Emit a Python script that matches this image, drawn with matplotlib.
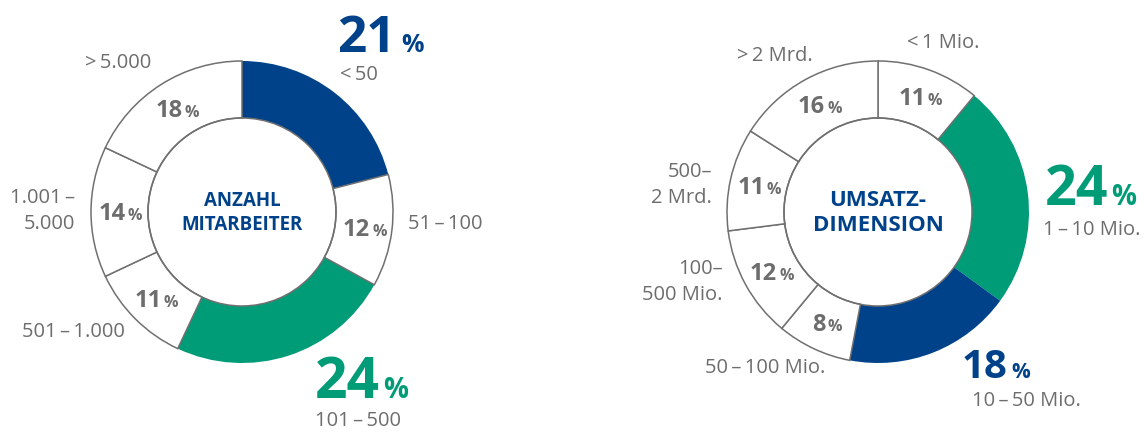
import matplotlib.pyplot as plt
import numpy as np

plt.rcParams['font.family'] = ['Open Sans', 'DejaVu Sans']

# ---- data ----
left_values = [21, 12, 24, 11, 14, 18]
left_labels = ["<\u200950", "51\u2009–\u2009100", "101\u2009–\u2009500", "501\u2009–\u20091.000",
               "1.001\u2009–\n5.000", ">\u20095.000"]
left_title = "ANZAHL\nMITARBEITER"

right_values = [11, 24, 18, 8, 12, 11, 16]
right_labels = ["<\u20091 Mio.", "1\u2009–\u200910 Mio.", "10\u2009–\u200950 Mio.", "50\u2009–\u2009100 Mio.",
                "100–\n500 Mio.", "500–\n2 Mrd.", ">\u20092 Mrd."]
right_title = "UMSATZ-\nDIMENSION"

# ---- styles ----
BLUE = '#00428a'
GREEN = '#009b77'
GRAY = '#6d6d6d'
EDGE = '#707070'
WHITE = '#ffffff'

left_colors = [BLUE, WHITE, GREEN, WHITE, WHITE, WHITE]
right_colors = [WHITE, GREEN, BLUE, WHITE, WHITE, WHITE, WHITE]

W, H = 1145, 433
R, R_IN = 151, 94

# label positions in pixel coords (x, y from top, ha)
left_label_pos = [(340, 75, 'left'), (408, 224, 'left'), (315, 421, 'left'),
                  (22, 332, 'left'), (75, 211, 'right'), (85, 63, 'left')]
right_label_pos = [(907, 43, 'left'), (1043, 230, 'left'), (972, 401, 'left'),
                   (705, 368, 'left'), (723, 282, 'right'), (712, 185, 'right'),
                   (737, 56, 'left')]
# big percentages: slice index -> (number x, baseline y, % x, number size, % size)
left_big = {0: (396, 52, 401, 37, 18), 2: (380, 398, 383, 41, 20)}
right_big = {1: (1108, 205, 1111, 40, 20), 2: (1008, 378, 1011, 29, 15)}

fig = plt.figure(figsize=(W / 100, H / 100), dpi=100)
ax = fig.add_axes([0, 0, 1, 1])


def draw_donut(cx, cy, values, colors, labels, label_pos, big, title, title_size, title_ls):
    wedges, _ = ax.pie(values, colors=colors, startangle=90, counterclock=False,
                       radius=R, center=(cx, H - cy), frame=False,
                       wedgeprops=dict(width=R - R_IN, edgecolor=EDGE, linewidth=1.1))
    rm = (R + R_IN) / 2
    for w, v, c in zip(wedges, values, colors):
        if c != WHITE:
            w.set_linewidth(0)
            w.set_zorder(1)
        else:
            w.set_zorder(2)
            mid = np.deg2rad((w.theta1 + w.theta2) / 2)
            x = cx + rm * np.cos(mid)
            y = H - cy + rm * np.sin(mid)
            xr = x + 6.5 * len(str(v)) - 9
            ax.text(xr + 2, y - 8.5, str(v), ha='right', va='baseline', fontsize=17,
                    fontweight='bold', color=GRAY, zorder=5)
            ax.text(xr + 4.5, y - 8.5, '%', ha='left', va='baseline', fontsize=11.5,
                    fontweight='bold', color=GRAY, zorder=5)
    # inner circle outline
    ax.add_patch(plt.Circle((cx, H - cy), R_IN, fill=False, edgecolor=EDGE, linewidth=1.1, zorder=3))
    for lab, (lx, ly, ha) in zip(labels, label_pos):
        ax.text(lx, H - ly, lab, ha=ha, va='center', ma=ha, fontsize=14.5, color=GRAY,
                linespacing=1.45)
    for i, (nx, by, px, ns, ps) in big.items():
        ax.text(nx, H - by, str(values[i]), ha='right', va='baseline', fontsize=ns,
                fontweight='bold', color=colors[i])
        ax.text(px, H - by, '%', ha='left', va='baseline', fontsize=ps,
                fontweight='bold', color=colors[i])
    ax.text(cx, H - cy - 1, title, ha='center', va='center', fontsize=title_size,
            fontweight='bold', color=BLUE, linespacing=title_ls, zorder=5)


draw_donut(242, 212, left_values, left_colors, left_labels, left_label_pos, left_big,
           left_title, 13.5, 1.3)
draw_donut(878, 212, right_values, right_colors, right_labels, right_label_pos, right_big,
           right_title, 16, 1.25)

ax.set_xlim(0, W)
ax.set_ylim(0, H)
ax.set_aspect('auto')
ax.axis('off')

fig.savefig('out.png', dpi=100, facecolor='white')
